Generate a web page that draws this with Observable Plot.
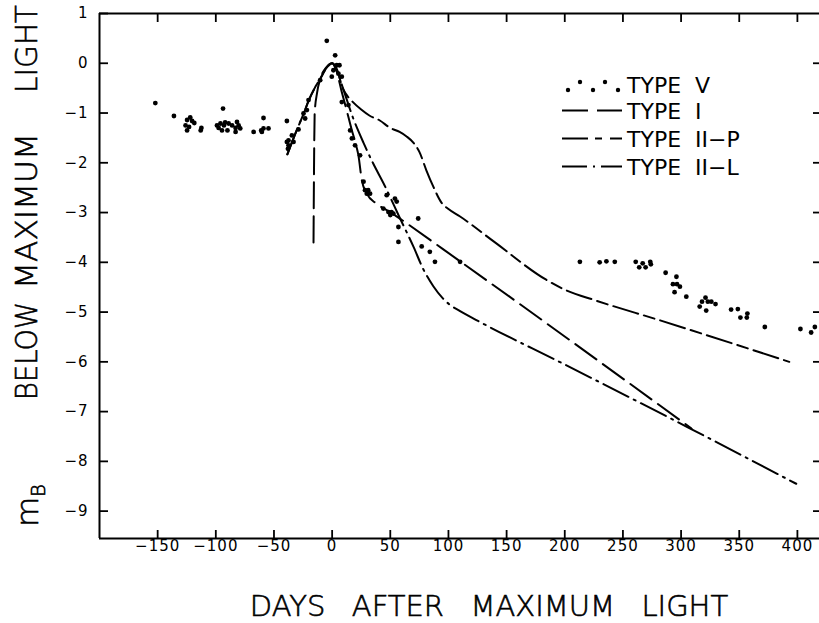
<!DOCTYPE html>
<html><head><meta charset="utf-8">
<script src="https://cdn.jsdelivr.net/npm/d3@7"></script>
<script src="https://cdn.jsdelivr.net/npm/@observablehq/plot@0.6"></script>
<style>
body{margin:0;background:#fff;}
#chart svg{display:block;}
</style></head><body><div id="chart"></div>
<script>
// ---- tick values ----
const xTicks = [-150,-100,-50,0,50,100,150,200,250,300,350,400];
const yTicks = [1,0,-1,-2,-3,-4,-5,-6,-7,-8,-9];

// ---- TYPE V observations (days, magnitude below maximum) ----
const typeVDay = [-152,-136,-122,-124.7,-120.4,-126,-118.5,-123,-124.7,-113,-112.4,-93.8,-99,-96,-97.6,-93,-92,-89,-90,-86,-83,-81.8,-80.4,-83,-79,-94.7,-67.5,-59,-61,-59,-54.7,-60.4,-38.9,
  -38.9,-37.5,-34.6,-33.2,-37.5,-38,-28.9,-24.6,-21.7,-23.2,-20.3,-10.3,-4.6,2.6,-0.3,4,6.3,1.1,5.4,8.3,8.3,14,15.5,17,19.7,24,
  27,28.3,31,29.8,32.6,46.9,54,55.5,44,48.4,51,50,52.6,74,57,57,77,84,88.4,110,
  213,230,235.8,243,261,264,267,269.5,273.5,274,286.7,296,293,296.5,299,294.4,304.5,321,318,323,326,329.6,316,321.6,343,348.8,351,357,356.5,372,402.6,411.8,415];
const typeVMag = [-0.80,-1.06,-1.09,-1.14,-1.16,-1.25,-1.20,-1.28,-1.35,-1.35,-1.30,-0.91,-1.25,-1.21,-1.30,-1.25,-1.19,-1.21,-1.35,-1.25,-1.30,-1.18,-1.25,-1.38,-1.31,-1.35,-1.38,-1.10,-1.35,-1.31,-1.31,-1.38,-1.16,
  -1.58,-1.55,-1.45,-1.58,-1.65,-1.72,-1.33,-1.01,-0.94,-1.11,-0.74,-0.34,0.45,0.16,-0.27,-0.04,-0.04,-0.14,-0.21,-0.27,-0.78,-0.84,-1.35,-1.51,-1.65,-1.85,
  -2.38,-2.55,-2.55,-2.62,-2.62,-2.65,-2.72,-2.78,-2.92,-2.99,-2.99,-3.05,-3.02,-3.12,-3.29,-3.59,-3.68,-3.79,-3.99,-3.99,
  -3.99,-4.00,-3.98,-3.99,-3.99,-4.10,-4.02,-4.10,-3.99,-4.04,-4.21,-4.29,-4.44,-4.44,-4.49,-4.60,-4.69,-4.71,-4.79,-4.79,-4.79,-4.84,-4.89,-4.97,-4.95,-4.94,-5.11,-5.03,-5.11,-5.30,-5.34,-5.41,-5.30];

// ---- TYPE I template ----
const typeIDay = [-16,-15.6,-15,-13,-10,-5,0,3,8,14,17,21,22.6,25.5,29.8,38,50,60,95,309];
const typeIMag = [-3.6,-2.2,-1.0,-0.6,-0.3,-0.08,0,-0.1,-0.55,-1.08,-1.35,-1.68,-1.85,-2.35,-2.62,-2.82,-2.99,-3.15,-3.73,-7.34];

// ---- TYPE II-P template ----
const typeIIPDay = [-38.5,-30,-24.6,-20,-15,-10,-5,0,5,8.3,12,17,25,32,41,50,58,64,70,75,81,87,94,100,110,140,184,200,227,281,393];
const typeIIPMag = [-1.83,-1.32,-1.02,-0.74,-0.5,-0.3,-0.1,0,-0.17,-0.45,-0.62,-0.76,-0.93,-1.05,-1.15,-1.3,-1.38,-1.47,-1.6,-1.78,-2.15,-2.48,-2.8,-2.93,-3.08,-3.6,-4.35,-4.55,-4.77,-5.16,-6.0];

// ---- TYPE II-L template ----
const typeIILDay = [-38.5,-30,-24.6,-20,-15,-10,-5,0,4,10,18,27,35,45,58,70,78,87,95,100,110,124,198,307,399];
const typeIILMag = [-1.83,-1.32,-1.02,-0.74,-0.5,-0.3,-0.1,0,-0.15,-0.55,-1.1,-1.6,-2.0,-2.45,-3.1,-3.69,-4.12,-4.48,-4.72,-4.83,-4.98,-5.16,-6.03,-7.33,-8.45];

const legendLabels = ["TYPE  V","TYPE  I","TYPE  II\u2212P","TYPE  II\u2212L"];
const xTitle = "DAYS  AFTER  MAXIMUM  LIGHT";
const yTitleWords = ["BELOW","MAXIMUM","LIGHT"];

const zip = (xs, ys) => xs.map((d, i) => ({day: d, mag: ys[i]}));
const typeV = zip(typeVDay, typeVMag);
const typeI = zip(typeIDay, typeIMag);
const typeIIP = zip(typeIIPDay, typeIIPMag);
const typeIIL = zip(typeIILDay, typeIILMag);

const fmt = d3.format("d");
const F = "'DejaVu Sans', 'Liberation Sans', sans-serif";

const plot = Plot.plot({
  width: 819, height: 623,
  marginLeft: 99, marginRight: 0, marginTop: 13, marginBottom: 85,
  x: {domain: [-200, 419]},
  y: {domain: [-9.55, 1]},
  style: {fontFamily: F, fontSize: "15px", color: "#000", background: "#fff"},
  marks: [
    Plot.ruleY([1], {stroke: "#000", strokeWidth: 2}),
    Plot.ruleY([-9.55], {stroke: "#000", strokeWidth: 2}),
    Plot.ruleX([-200], {stroke: "#000", strokeWidth: 2}),
    Plot.axisX(xTicks, {anchor: "bottom", tickSize: -8, tickPadding: 10, strokeWidth: 1.8, tickFormat: fmt, label: null, fontSize: 15}),
    Plot.axisX(xTicks, {anchor: "top", tickSize: -8, strokeWidth: 1.8, tickFormat: () => "", label: null}),
    Plot.axisY(yTicks, {anchor: "left", tickSize: -9, tickPadding: 20, strokeWidth: 1.8, tickFormat: fmt, label: null, fontSize: 15}),
    Plot.axisY(yTicks.filter(d => d < 1), {anchor: "right", tickSize: -7, strokeWidth: 1.8, tickFormat: () => "", label: null}),
    Plot.line(typeIIP, {x: "day", y: "mag", stroke: "#000", strokeWidth: 2, strokeDasharray: "26 6 11 6", curve: "monotone-x"}),
    Plot.line(typeIIL, {x: "day", y: "mag", stroke: "#000", strokeWidth: 2, strokeDasharray: "28 6 2 6", curve: "monotone-x"}),
    Plot.line(typeI, {x: "day", y: "mag", stroke: "#000", strokeWidth: 2, strokeDasharray: "26 8", curve: "monotone-x"}),
    Plot.dot(typeV, {x: "day", y: "mag", r: 2.4, fill: "#000", stroke: "none"})
  ]
});

const svg = d3.select(plot);
svg.selectAll('g[aria-label="x-axis tick label"] text, g[aria-label="y-axis tick label"] text').attr("letter-spacing", "1px");

// legend
const lg = svg.append("g").attr("font-family", F).attr("font-size", 22).attr("fill", "#000").attr("text-anchor", "start");
const rowY = [85, 110.5, 138.5, 166.5];
const dashes = [null, "26 9", "26 7 7 8", "25 6 2 6"];
legendLabels.forEach((lab, i) => {
  const y = rowY[i];
  if (i === 0) {
    [568, 580, 593, 605, 618].forEach((x, k) => {
      lg.append("circle").attr("cx", x).attr("cy", k % 2 ? 82 : 90).attr("r", 2.2).attr("fill", "#000");
    });
  } else {
    lg.append("line").attr("x1", 562).attr("x2", 622).attr("y1", y).attr("y2", y)
      .attr("stroke", "#000").attr("stroke-width", 1.8).attr("stroke-dasharray", dashes[i]);
  }
  lg.append("text").attr("x", 627).attr("y", y + 8).attr("text-anchor", "start")
    .style("white-space", "pre").text(lab);
});

// axis titles
const tt = svg.append("g").attr("font-family", F).attr("fill", "#000").attr("font-weight", 300)
  .attr("stroke", "#000").attr("stroke-width", 0.6);
tt.append("text").attr("x", 489).attr("y", 616).attr("text-anchor", "middle")
  .attr("font-size", 29).attr("word-spacing", "4px").style("white-space", "pre").text(xTitle);
const yCenters = [351, 211, 49];
const yLens = [98, 156, 88];
yTitleWords.forEach((w, i) => {
  tt.append("text").attr("transform", `translate(37,${yCenters[i]}) rotate(-90)`)
    .attr("text-anchor", "middle").attr("font-size", 31)
    .attr("textLength", yLens[i]).attr("lengthAdjust", "spacingAndGlyphs").text(w);
});
const mb = tt.append("text").attr("transform", "translate(38,527) rotate(-90)").attr("font-size", 31).attr("text-anchor", "start");
mb.append("tspan").text("m");
mb.append("tspan").attr("font-size", 19).attr("dy", 7).text("B");

document.getElementById("chart").appendChild(plot);
</script>
</body></html>
